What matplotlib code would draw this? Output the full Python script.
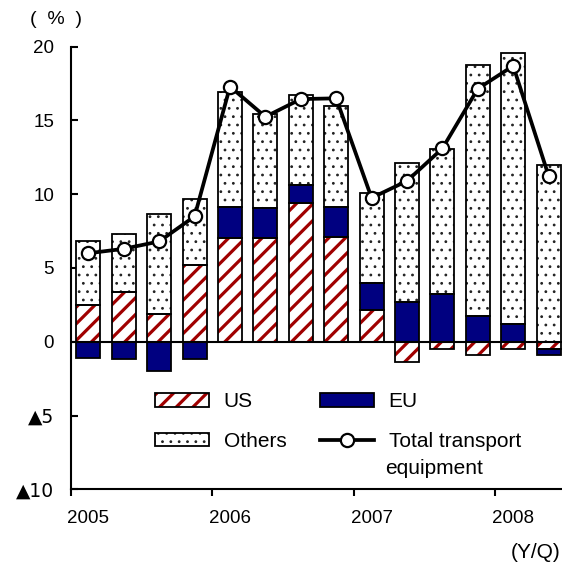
import matplotlib
matplotlib.use("Agg")
import matplotlib.pyplot as plt
import numpy as np
from matplotlib.patches import Patch
from matplotlib.lines import Line2D
from matplotlib.legend_handler import HandlerTuple

# Contribution to growth of transport equipment exports, by destination (% y/y)
quarters = ["2005Q1", "2005Q2", "2005Q3", "2005Q4",
            "2006Q1", "2006Q2", "2006Q3", "2006Q4",
            "2007Q1", "2007Q2", "2007Q3", "2007Q4",
            "2008Q1", "2008Q2"]
us = [2.5, 3.35, 1.9, 5.2, 7.05, 7.0, 9.4, 7.1, 2.15, -1.35, -0.5, -0.9, -0.5, -0.5]
eu = [-1.1, -1.15, -2.0, -1.15, 2.1, 2.1, 1.25, 2.05, 1.85, 2.7, 3.25, 1.75, 1.2, -0.4]
others = [4.35, 3.95, 6.75, 4.5, 7.8, 6.35, 6.1, 6.85, 6.05, 9.4, 9.8, 17.0, 18.4, 12.0]
total = [6.0, 6.3, 6.8, 8.5, 17.3, 15.25, 16.45, 16.5, 9.75, 10.9, 13.1, 17.15, 18.7, 11.25]
years = ["2005", "2006", "2007", "2008"]
y_ticks = [-10, -5, 0, 5, 10, 15, 20]
y_tick_labels = ["▲10", "▲5", "0", "5", "10", "15", "20"]

US_RED = "#a00000"
EU_NAVY = "#000080"
DOT = "#222222"
EDGE_LW = 1.3
STRIPE_LW = 2.3
DOT_LW = 0.8

plt.rcParams["font.family"] = ["Liberation Sans", "DejaVu Sans"]
plt.rcParams["hatch.linewidth"] = STRIPE_LW


def set_hatch_width(artist, lw):
    """Give the artist its own hatch line width."""
    if hasattr(artist, "set_hatch_linewidth"):
        artist.set_hatch_linewidth(lw)
    orig = artist.draw

    def draw(renderer, _orig=orig, _lw=lw):
        with plt.rc_context({"hatch.linewidth": _lw}):
            _orig(renderer)

    artist.draw = draw


fig = plt.figure(figsize=(5.62, 5.67), dpi=100)
ax = fig.add_axes([70.7 / 562, (567 - 489.3) / 567, 14 * 35.4 / 562, (489.3 - 46.7) / 567])

x = np.arange(len(quarters)) + 0.5
width = 0.68

pos_base = np.zeros(len(quarters))
neg_base = np.zeros(len(quarters))
series = [(np.array(us), "us"), (np.array(eu), "eu"), (np.array(others), "others")]
for vals, key in series:
    bottom = np.where(vals >= 0, pos_base, neg_base)
    if key == "us":
        ax.bar(x, vals, width, bottom=bottom, facecolor="white",
               edgecolor=US_RED, hatch="//", linewidth=0, zorder=2)
    elif key == "eu":
        ax.bar(x, vals, width, bottom=bottom, facecolor=EU_NAVY, linewidth=0, zorder=2)
    else:
        with plt.rc_context({"hatch.linewidth": DOT_LW}):
            ax.bar(x, vals, width, bottom=bottom, facecolor="white",
                   edgecolor=DOT, hatch="..", linewidth=0, zorder=2)
    # black outline around each segment
    ax.bar(x, vals, width, bottom=bottom, fill=False, edgecolor="black",
           linewidth=EDGE_LW, zorder=3)
    pos_base = pos_base + np.where(vals >= 0, vals, 0)
    neg_base = neg_base + np.where(vals < 0, vals, 0)

ax.axhline(0, color="black", linewidth=1.5, zorder=4)

ax.plot(x, total, "-o", color="black", linewidth=2.7, markersize=9.5,
        markerfacecolor="white", markeredgecolor="black", markeredgewidth=1.6,
        zorder=5)

ax.set_xlim(0, len(quarters))
ax.set_ylim(-10, 20)
ax.set_yticks(y_ticks)
ax.set_yticklabels(y_tick_labels)
for lbl in ax.get_yticklabels():
    if "▲" in lbl.get_text():
        lbl.set_fontfamily(["DejaVu Sans"])
ax.set_xticks(np.arange(0, len(quarters), 4))
ax.set_xticklabels([])
ax.set_xticks(np.arange(0, len(quarters), 4) + 0.5, minor=True)
ax.set_xticklabels(years, minor=True)

ax.tick_params(axis="y", direction="in", length=5, width=1.5, pad=12, labelsize=13.5)
ax.tick_params(axis="x", which="major", direction="out", length=5, width=1.5)
ax.tick_params(axis="x", which="minor", length=0, pad=15, labelsize=13.5)

for side in ("top", "right"):
    ax.spines[side].set_visible(False)
for side in ("left", "bottom"):
    ax.spines[side].set_linewidth(1.5)

# legend
frame = dict(facecolor="none", edgecolor="black", linewidth=EDGE_LW)
h_us = (Patch(facecolor="white", edgecolor=US_RED, hatch="//", linewidth=0), Patch(**frame))
with plt.rc_context({"hatch.linewidth": DOT_LW}):
    h_ot = (Patch(facecolor="white", edgecolor=DOT, hatch="..", linewidth=0), Patch(**frame))
h_eu = Patch(facecolor=EU_NAVY, edgecolor="black", linewidth=EDGE_LW)
h_tot = Line2D([], [], color="black", linewidth=2.7, marker="o", markersize=9.5,
               markerfacecolor="white", markeredgecolor="black", markeredgewidth=1.6)

ax.legend([h_us, h_ot, h_eu, h_tot], ["US", "Others", "EU", "Total transport"],
          handler_map={tuple: HandlerTuple(ndivide=1, pad=0)},
          ncol=2, loc="upper left", bbox_to_anchor=(155 / 562, 1 - 392 / 567),
          bbox_transform=fig.transFigure, frameon=False, borderpad=0,
          borderaxespad=0, fontsize=15, handlelength=2.6, handleheight=0.65,
          handletextpad=0.7, columnspacing=1.6, labelspacing=1.0)
fig.text(385 / 562, 1 - 469 / 567, "equipment", ha="left", va="center", fontsize=15)

fig.text(56 / 562, 1 - 20 / 567, "(  %  )", ha="center", va="center", fontsize=14)
fig.text(560 / 562, 1 - 552 / 567, "(Y/Q)", ha="right", va="center", fontsize=15)

# dotted fills keep a fine hatch line, stripes stay bold
for p in fig.findobj(Patch):
    if p.get_hatch() == "..":
        set_hatch_width(p, DOT_LW)

fig.savefig("out.png", dpi=100)
